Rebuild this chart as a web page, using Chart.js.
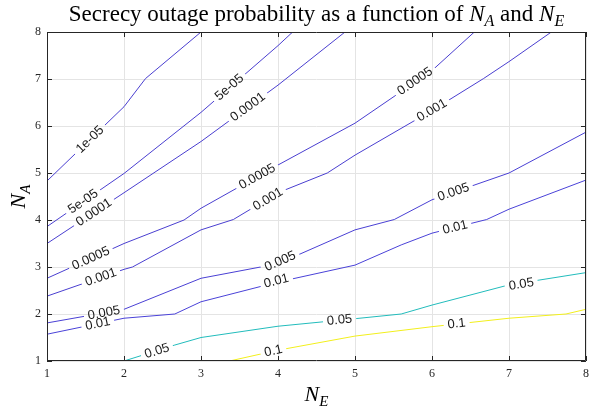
<!DOCTYPE html>
<html>
<head>
<meta charset="utf-8">
<script src="https://cdn.jsdelivr.net/npm/chart.js@4/dist/chart.umd.min.js"></script>
<style>
  html, body { margin: 0; padding: 0; background: #fff; }
  #wrap { width: 595px; height: 410px; }
</style>
</head>
<body>
<div id="wrap"><canvas id="c" width="595" height="410"></canvas></div>
<script>
/* Secrecy outage probability contour plot (N_E vs N_A) */

// contour levels, as printed on the lines
const LEVELS = ['1e-05', '5e-05', '0.0001', '0.0005', '0.001', '0.005', '0.01', '0.05', '0.1'];
const LINE_COLORS = ['#4a3fd0', '#4a3fd0', '#4a3fd0', '#4a3fd0', '#4a3fd0', '#4a40d4', '#4a42d8', '#22bcbc', '#f2ef1c'];

// contour paths [N_E, N_A]
const c1e5 = [[1, 4.83], [2, 6.41], [2.28, 7.01], [3, 8]];
const c5e5 = [[1, 3.86], [2, 4.99], [3, 6.29], [4, 7.71], [4.19, 8]];
const c1e4 = [[1, 3.5], [2, 4.58], [3, 5.67], [4, 6.87], [4.87, 8]];
const c5e4 = [[1, 2.76], [2, 3.5], [2.78, 4.0], [3, 4.25], [4, 5.17], [5, 6.06], [6, 7.18], [6.55, 8]];
const c1e3 = [[1, 2.38], [2, 2.95], [2.11, 3.0], [3, 3.79], [3.42, 4.01], [4, 4.58], [4.64, 5.0], [5, 5.38], [6, 6.33], [6.67, 7.01], [7, 7.37], [7.55, 8]];
const c5e3 = [[1, 1.81], [2, 2.1], [3, 2.76], [4, 3.07], [5, 3.79], [5.51, 4.01], [6, 4.43], [7, 5.0], [8, 5.87]];
const c1e2 = [[1, 1.57], [2, 1.91], [2.66, 2.0], [3, 2.26], [4, 2.68], [5, 3.04], [5.6, 3.47], [6, 3.72], [6.71, 4.01], [7, 4.23], [8, 4.85]];
const c5e2 = [[2, 1.0], [2.66, 1.34], [3, 1.5], [4, 1.74], [5, 1.9], [5.6, 2.0], [6, 2.19], [7, 2.62], [8, 2.88]];
const c1e1 = [[3.37, 1.0], [4, 1.23], [5, 1.53], [6, 1.73], [7, 1.91], [7.74, 2.0], [8, 2.1]];
const CONTOURS = [c1e5, c5e5, c1e4, c5e4, c1e3, c5e3, c1e2, c5e2, c1e1];

// where the inline level labels sit (data coords, one list per contour)
const LABEL_SPOTS = [
  [[1.56, 5.71]],
  [[1.47, 4.39], [3.37, 6.82]],
  [[1.61, 4.16], [3.61, 6.40]],
  [[1.57, 3.18], [3.73, 4.92], [5.78, 6.95]],
  [[1.70, 2.78], [3.87, 4.44], [6.0, 6.33]],
  [[1.74, 2.02], [4.03, 3.12], [6.28, 4.59]],
  [[1.66, 1.79], [3.98, 2.70], [6.3, 3.84]],
  [[2.43, 1.21], [4.8, 1.87], [7.16, 2.63]],
  [[3.94, 1.21], [6.32, 1.79]],
];

const TICKS = [1, 2, 3, 4, 5, 6, 7, 8];

const SERIF = '"Liberation Serif", "DejaVu Serif", serif';
const SANS = '"Liberation Sans", Arial, sans-serif';
const AXIS_COLOR = '#262626';
const LABEL_FONT = '13px ' + SANS;

/* ---------- label geometry ---------- */

// Pixel centre, angle and width of each inline label for dataset i.
function labelBoxes(chart, i) {
  const xs = chart.scales.x, ys = chart.scales.y;
  const pts = CONTOURS[i];
  const ctx = chart.ctx;
  ctx.save();
  ctx.font = LABEL_FONT;
  const w = ctx.measureText(LEVELS[i]).width;
  ctx.restore();
  return LABEL_SPOTS[i].map(([lx, ly]) => {
    let k = 0;
    while (k < pts.length - 2 && pts[k + 1][0] < lx) k++;
    const a = pts[k], b = pts[k + 1];
    const ang = Math.atan2(
      ys.getPixelForValue(b[1]) - ys.getPixelForValue(a[1]),
      xs.getPixelForValue(b[0]) - xs.getPixelForValue(a[0])
    );
    return { x: xs.getPixelForValue(lx), y: ys.getPixelForValue(ly), ang, w };
  });
}

// Cut gaps in the contour lines where the labels go, then write the labels.
const contourLabels = {
  id: 'contourLabels',
  beforeDatasetDraw(chart, args) {
    const ctx = chart.ctx;
    ctx.save();
    ctx.beginPath();
    ctx.rect(0, 0, chart.width, chart.height);
    labelBoxes(chart, args.index).forEach((b) => {
      const hw = b.w / 2 + 4, hh = 8;
      const c = Math.cos(b.ang), s = Math.sin(b.ang);
      const corners = [[-hw, -hh], [hw, -hh], [hw, hh], [-hw, hh]].map(([u, v]) =>
        [b.x + u * c - v * s, b.y + u * s + v * c]);
      ctx.moveTo(corners[0][0], corners[0][1]);
      for (let j = 1; j < 4; j++) ctx.lineTo(corners[j][0], corners[j][1]);
      ctx.closePath();
    });
    ctx.clip('evenodd');
  },
  afterDatasetDraw(chart) {
    chart.ctx.restore();
  },
  afterDatasetsDraw(chart) {
    const ctx = chart.ctx;
    LEVELS.forEach((lvl, i) => {
      labelBoxes(chart, i).forEach((b) => {
        ctx.save();
        ctx.translate(b.x, b.y);
        ctx.rotate(b.ang);
        ctx.font = LABEL_FONT;
        ctx.fillStyle = '#1a1a1a';
        ctx.textAlign = 'center';
        ctx.textBaseline = 'middle';
        ctx.fillText(lvl, 0, 0);
        ctx.restore();
      });
    });
  },
};

/* ---------- box, inward ticks, title and axis labels ---------- */

// Draw "N" + subscript in italics starting at x; returns end x.
function drawSubscripted(ctx, x, y, sub, size) {
  ctx.font = 'italic ' + size + 'px ' + SERIF;
  ctx.fillText('N', x, y);
  x += ctx.measureText('N').width;
  const ss = Math.round(size * 0.7);
  ctx.font = 'italic ' + ss + 'px ' + SERIF;
  ctx.fillText(sub, x, y + size * 0.22);
  return x + ctx.measureText(sub).width;
}

function subscriptedWidth(ctx, sub, size) {
  ctx.font = 'italic ' + size + 'px ' + SERIF;
  let w = ctx.measureText('N').width;
  ctx.font = 'italic ' + Math.round(size * 0.7) + 'px ' + SERIF;
  return w + ctx.measureText(sub).width;
}

const frame = {
  id: 'frame',
  afterDraw(chart) {
    const ctx = chart.ctx;
    const a = chart.chartArea;
    const xs = chart.scales.x, ys = chart.scales.y;
    ctx.save();
    ctx.strokeStyle = AXIS_COLOR;
    ctx.lineWidth = 1;
    ctx.beginPath();
    ctx.rect(a.left + 0.5, a.top + 0.5, a.right - a.left - 1, a.bottom - a.top - 1);
    const tl = 5;
    TICKS.forEach((t) => {
      const px = Math.round(xs.getPixelForValue(t)) + 0.5;
      ctx.moveTo(px, a.bottom); ctx.lineTo(px, a.bottom - tl);
      ctx.moveTo(px, a.top); ctx.lineTo(px, a.top + tl);
      const py = Math.round(ys.getPixelForValue(t)) + 0.5;
      ctx.moveTo(a.left, py); ctx.lineTo(a.left + tl, py);
      ctx.moveTo(a.right, py); ctx.lineTo(a.right - tl, py);
    });
    ctx.stroke();

    // title
    ctx.fillStyle = '#000';
    ctx.textBaseline = 'alphabetic';
    ctx.textAlign = 'left';
    const ts = 23;
    const plain1 = 'Secrecy outage probability as a function of ';
    const plain2 = ' and ';
    ctx.font = ts + 'px ' + SERIF;
    const tw = ctx.measureText(plain1).width + ctx.measureText(plain2).width
      + subscriptedWidth(ctx, 'A', ts) + subscriptedWidth(ctx, 'E', ts);
    let x = (a.left + a.right) / 2 - tw / 2;
    const ty = 21;
    ctx.font = ts + 'px ' + SERIF;
    ctx.fillText(plain1, x, ty);
    x += ctx.measureText(plain1).width;
    x = drawSubscripted(ctx, x, ty, 'A', ts);
    ctx.font = ts + 'px ' + SERIF;
    ctx.fillText(plain2, x, ty);
    x += ctx.measureText(plain2).width;
    drawSubscripted(ctx, x, ty, 'E', ts);

    // x axis label
    const ls = 22;
    const xw = subscriptedWidth(ctx, 'E', ls);
    drawSubscripted(ctx, (a.left + a.right) / 2 - xw / 2, 401, 'E', ls);

    // y axis label (rotated)
    ctx.save();
    ctx.translate(25, (a.top + a.bottom) / 2);
    ctx.rotate(-Math.PI / 2);
    const yw = subscriptedWidth(ctx, 'A', ls);
    drawSubscripted(ctx, -yw / 2, 0, 'A', ls);
    ctx.restore();
    ctx.restore();
  },
};

/* ---------- chart ---------- */

const axisCommon = {
  type: 'linear',
  min: 1,
  max: 8,
  grid: { color: '#e4e4e4', lineWidth: 1, drawTicks: false },
  border: { display: false },
  ticks: {
    stepSize: 1,
    color: AXIS_COLOR,
    font: { family: SERIF, size: 12 },
  },
};

new Chart(document.getElementById('c'), {
  type: 'scatter',
  data: {
    datasets: CONTOURS.map((pts, i) => ({
      label: LEVELS[i],
      data: pts.map(([x, y]) => ({ x, y })),
      showLine: true,
      borderColor: LINE_COLORS[i],
      borderWidth: 1,
      pointRadius: 0,
      tension: 0,
      fill: false,
    })),
  },
  options: {
    responsive: false,
    animation: false,
    layout: { padding: { top: 32, right: 3, left: 0, bottom: 0 } },
    plugins: { legend: { display: false }, tooltip: { enabled: false }, title: { display: false } },
    scales: {
      x: {
        ...axisCommon,
        ticks: { ...axisCommon.ticks, padding: 6 },
        afterFit: (s) => { s.height = 49; },
      },
      y: {
        ...axisCommon,
        ticks: { ...axisCommon.ticks, padding: 6 },
        afterFit: (s) => { s.width = 47; },
      },
    },
  },
  plugins: [contourLabels, frame],
});
</script>
</body>
</html>
